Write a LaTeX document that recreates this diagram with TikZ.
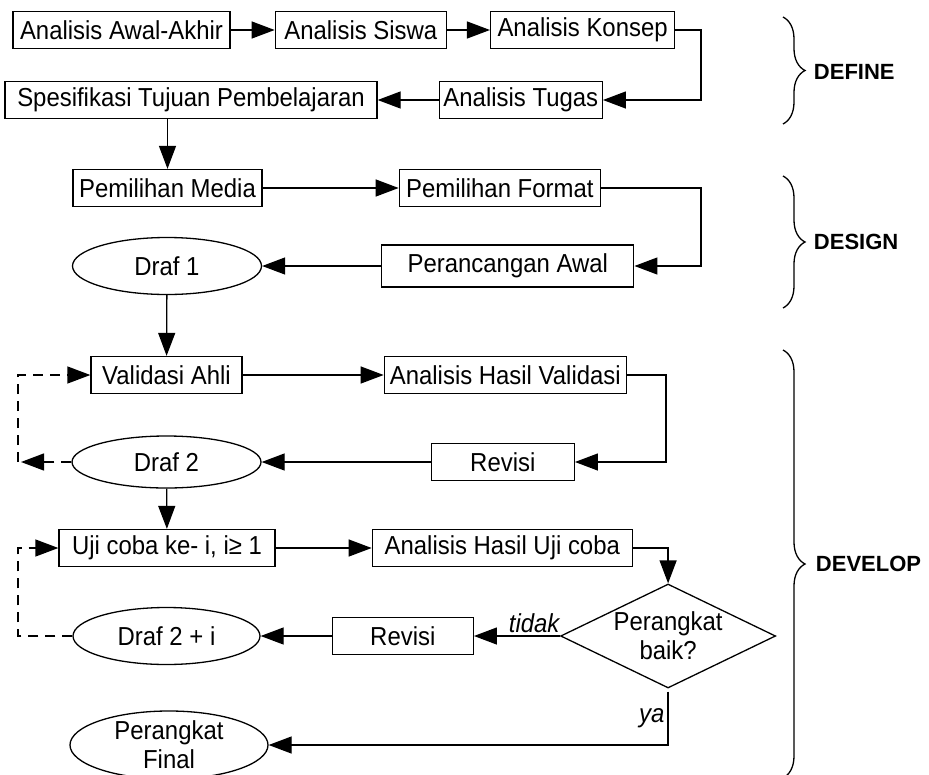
\documentclass[tikz,border=0pt]{standalone}
\usepackage{fontspec}
\setmainfont{Liberation Sans}
\newfontfamily\boxfont[FakeStretch=0.92]{Liberation Sans}
\usetikzlibrary{positioning}
\usetikzlibrary{shapes.geometric}
\usetikzlibrary{arrows.meta}
\usetikzlibrary{decorations.pathreplacing}

\begin{document}
\begin{tikzpicture}[x=1pt, y=-1pt, line width=1.3pt,
	>={Triangle[length=23pt,width=17pt]},
	every node/.style={font=\boxfont\fontsize{26}{29}\selectfont},
	every edge/.style={draw=black,->},
	box/.style={draw, rectangle, minimum height=37pt, inner sep=2pt},
	oval/.style={draw, ellipse, minimum height=55pt, inner sep=0pt},
	dashline/.style={dash pattern=on 10pt off 7pt},
	lbl/.style={font=\boxfont\fontsize{26}{29}\selectfont\itshape, inner sep=3pt},
	fase/.style={font=\fontsize{22}{26}\selectfont\bfseries, anchor=west},
	kurung/.style={decorate, decoration={brace, amplitude=22pt}}]
	\useasboundingbox (0,0) rectangle (929,774);
	
	% Nodes
	\node[box, minimum width=217pt] (aa) at (121.5,30) {Analisis Awal-Akhir};
	\node[box, minimum width=171pt, right=44pt of aa] (as) {Analisis Siswa};
	\node[box, minimum width=184pt, right=43pt of as] (ak) {Analisis Konsep};
	\node[box, minimum width=372pt] (sp) at (191,100) {Spesifikasi Tujuan Pembelajaran};
	\node[box, minimum width=163pt, right=61pt of sp] (at) {Analisis Tugas};
	
	\node[box, minimum width=189pt] (pm) at (167.5,188) {Pemilihan Media};
	\node[box, minimum width=201pt, right=136pt of pm] (pf) {Pemilihan Format};
	\node[oval, minimum width=189pt, minimum height=57pt] (d1) at (167,266) {Draf 1};
	\node[box, minimum width=252pt, minimum height=42pt, right=119pt of d1] (pa) {Perancangan Awal};
	
	\node[box, minimum width=151pt] (va) at (166.5,375) {Validasi Ahli};
	\node[box, minimum width=242pt, right=141pt of va] (ahv) {Analisis Hasil Validasi};
	\node[oval, minimum width=189pt, minimum height=52pt] (d2) at (166.5,462) {Draf 2};
	\node[box, minimum width=143pt, right=169pt of d2] (rv1) {Revisi};
	
	\node[box, minimum width=216pt] (uc) at (167,548) {Uji coba ke- i, i≥ 1};
	\node[box, minimum width=260pt, right=96pt of uc] (ahu) {Analisis Hasil Uji coba};
	\node[oval, minimum width=187pt, minimum height=57pt] (d2i) at (166.5,636) {Draf 2 + i};
	\node[box, minimum width=141pt, right=71pt of d2i] (rv2) {Revisi};
	\node[draw, diamond, aspect=2, minimum width=215pt, minimum height=104pt, inner sep=0pt, align=center, right=86pt of rv2] (dm) {Perangkat\\baik?};
	\node[oval, minimum width=198pt, minimum height=68pt, align=center] (pfn) at (169,745) {Perangkat\\Final};
	
	\coordinate (rgt) at (701,0);
	\coordinate (lft) at (18,0);
	
	% Arrows
	\draw (aa) edge (as);
	\draw (as) edge (ak);
	\draw[->] (ak.east) -| (rgt |- at.east) -- (at.east);
	\draw (at) edge (sp);
	\draw[->] (sp.south -| pm.north) -- (pm.north);
	\draw (pm) edge (pf);
	\draw[->] (pf.east) -| (rgt |- pa.east) -- (pa.east);
	\draw (pa) edge (d1);
	\draw (d1) edge (va);
	\draw (va) edge (ahv);
	\draw[->] (ahv.east) -- ++(39,0) |- (rv1.east);
	\draw (rv1) edge (d2);
	\draw (d2) edge (uc);
	\draw (uc) edge (ahu);
	\draw[->] (ahu.east) -| (dm.north);
	\draw (dm) edge node[lbl, above, pos=0.3] {tidak} (rv2);
	\draw (rv2) edge (d2i);
	\draw[->] ([yshift=-3pt]dm.south) |- node[lbl, left, pos=0.25] {ya} (pfn.east);
	
	% Loops
	\draw[dashline,->] (d2.west) -- ([xshift=3pt]lft |- d2.west);
	\draw[dashline,->] (lft |- d2.west) |- (va.west);
	\draw[dashline,->] (d2i.west) -| (lft |- uc.west) -- (uc.west);
	
	% Labels
	\draw[kurung] (783,17) -- (783,124);
	\node[fase] (define) at (810,72) {DEFINE};
	\draw[kurung] (783,176) -- (783,308);
	\node[fase] (design) at (810,242) {DESIGN};
	\draw[kurung] (783,350) -- (783,778);
	\node[fase] (develop) at (812,564) {DEVELOP};
\end{tikzpicture}
\end{document}
